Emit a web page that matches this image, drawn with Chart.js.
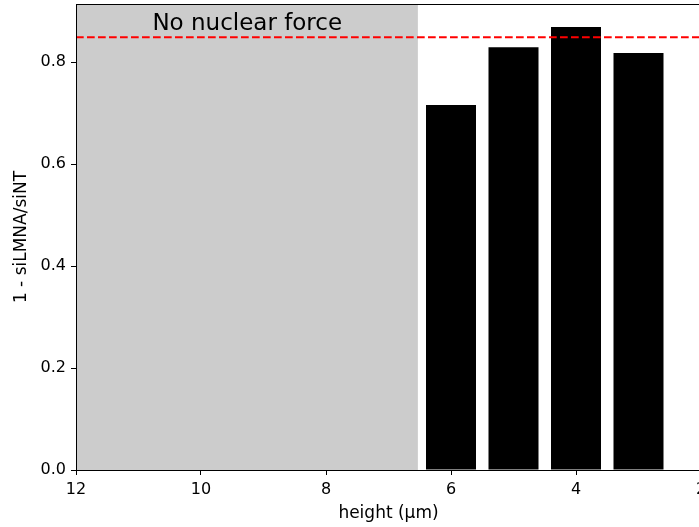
<!DOCTYPE html>
<html>
<head>
<meta charset="utf-8">
<script src="https://cdn.jsdelivr.net/npm/chart.js@4.4.1/dist/chart.umd.min.js"></script>
<style>
    html, body { margin: 0; padding: 0; background: #ffffff; overflow: hidden; }
    #chart { display: block; }
</style>
</head>
<body>
<canvas id="chart" width="701" height="527"></canvas>
<script>
// Dados do grafico
const heights = [6, 5, 4, 3];
const ratios = [0.716, 0.829, 0.869, 0.818];
const xTicks = [12, 10, 8, 6, 4, 2];
const yTicks = [0, 0.2, 0.4, 0.6, 0.8];
const thresholdValue = 0.849;
const shadedFrom = 12;
const shadedTo = 6.53;
const shadedLabel = 'No nuclear force';
const shadedLabelPos = [9.26, 0.875];

const fontFamily = '"DejaVu Sans", sans-serif';

// Faixa cinza atras de tudo
const shadePlugin = {
    id: 'shade',
    beforeDraw: function(chart) {
        const ctx = chart.ctx;
        const area = chart.chartArea;
        const xs = chart.scales.x;
        const x1 = xs.getPixelForValue(shadedFrom);
        const x2 = xs.getPixelForValue(shadedTo);
        ctx.save();
        ctx.fillStyle = '#cccccc';
        ctx.fillRect(Math.min(x1, x2), area.top, Math.abs(x2 - x1), area.bottom - area.top);
        ctx.restore();
    }
};

// Linha tracejada vermelha e texto
const overlayPlugin = {
    id: 'overlay',
    afterDatasetsDraw: function(chart) {
        const ctx = chart.ctx;
        const area = chart.chartArea;
        const xs = chart.scales.x;
        const ys = chart.scales.y;
        const yLine = ys.getPixelForValue(thresholdValue);

        ctx.save();
        ctx.strokeStyle = '#ff0000';
        ctx.lineWidth = 2;
        ctx.setLineDash([7.7, 3.3]);
        ctx.beginPath();
        ctx.moveTo(area.left, yLine);
        ctx.lineTo(area.right, yLine);
        ctx.stroke();
        ctx.restore();

        ctx.save();
        ctx.fillStyle = '#000000';
        ctx.font = '23px ' + fontFamily;
        ctx.textAlign = 'center';
        ctx.textBaseline = 'middle';
        ctx.fillText(shadedLabel, xs.getPixelForValue(shadedLabelPos[0]), ys.getPixelForValue(shadedLabelPos[1]));
        ctx.restore();
    },
    afterDraw: function(chart) {
        // caixa completa dos eixos
        const ctx = chart.ctx;
        const area = chart.chartArea;
        ctx.save();
        ctx.strokeStyle = '#000000';
        ctx.lineWidth = 1;
        ctx.strokeRect(area.left + 0.5, area.top + 0.5, area.right - area.left - 1, area.bottom - area.top);
        ctx.restore();
    }
};

const ctx = document.getElementById('chart').getContext('2d');
new Chart(ctx, {
    type: 'bar',
    data: {
        datasets: [{
            data: heights.map(function(h, i) { return { x: h, y: ratios[i] }; }),
            backgroundColor: '#000000',
            borderWidth: 0,
            barPercentage: 1.0,
            categoryPercentage: 0.8
        }]
    },
    options: {
        responsive: false,
        animation: false,
        devicePixelRatio: 1,
        layout: { padding: { top: 4, left: 0, right: 0, bottom: 0 } },
        plugins: {
            legend: { display: false },
            tooltip: { enabled: false }
        },
        scales: {
            x: {
                type: 'linear',
                offset: false,
                reverse: true,
                min: 2,
                max: 12,
                afterBuildTicks: function(axis) {
                    axis.ticks = xTicks.map(function(v) { return { value: v }; });
                },
                afterFit: function(axis) {
                    axis.height = 57;
                    axis.paddingLeft = 0;
                    axis.paddingRight = 0;
                },
                grid: {
                    offset: false,
                    drawOnChartArea: false,
                    drawTicks: true,
                    tickLength: 5,
                    tickColor: '#000000',
                    tickWidth: 1
                },
                border: { display: true, color: '#000000', width: 1 },
                ticks: {
                    color: '#000000',
                    padding: 5,
                    maxRotation: 0,
                    font: { family: fontFamily, size: 16 },
                    callback: function(v) { return v; }
                },
                title: {
                    display: true,
                    text: 'height (µm)',
                    color: '#000000',
                    padding: { top: 0, bottom: 3 },
                    font: { family: fontFamily, size: 17 }
                }
            },
            y: {
                min: 0,
                max: 0.914,
                afterBuildTicks: function(axis) {
                    axis.ticks = yTicks.map(function(v) { return { value: v }; });
                },
                afterFit: function(axis) {
                    axis.width = 76;
                    axis.paddingTop = 0;
                    axis.paddingBottom = 0;
                },
                grid: {
                    drawOnChartArea: false,
                    drawTicks: true,
                    tickLength: 5,
                    tickColor: '#000000',
                    tickWidth: 1
                },
                border: { display: true, color: '#000000', width: 1 },
                ticks: {
                    color: '#000000',
                    padding: 5,
                    font: { family: fontFamily, size: 16 },
                    callback: function(v) { return v.toFixed(1); }
                },
                title: {
                    display: true,
                    text: '1 - siLMNA/siNT',
                    color: '#000000',
                    padding: { top: 11, bottom: 0 },
                    font: { family: fontFamily, size: 17 }
                }
            }
        }
    },
    plugins: [shadePlugin, overlayPlugin]
});
</script>
</body>
</html>
